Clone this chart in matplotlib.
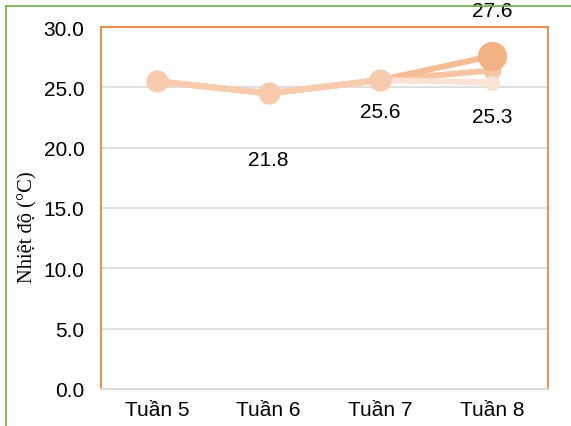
import matplotlib.pyplot as plt
from matplotlib.lines import Line2D

weeks = ['Tuần 5', 'Tuần 6', 'Tuần 7', 'Tuần 8']
series_dark = [25.5, 24.5, 25.6, 27.6]
series_mid = [25.5, 24.5, 25.6, 26.4]
series_light = [25.5, 24.5, 25.6, 25.4]

# data labels as shown (week index, text, offset in px)
label_weeks = [1, 2, 3, 3]
label_texts = ['21.8', '25.6', '25.3', '27.6']
label_series = [series_mid, series_mid, series_light, series_dark]
label_offsets = [-66, -31, -34, 45]

plt.rcParams['font.family'] = ['Liberation Sans', 'DejaVu Sans']

fig = plt.figure(figsize=(5.71, 4.27), dpi=100)
ax = fig.add_axes([101 / 571, 1 - 390 / 427, 447 / 571, 362 / 427])

x = list(range(len(weeks)))
c_dark = '#F4B183'
c_mid = '#F8CBAD'
c_light = '#FBE2D2'

ax.plot(x, series_light, color=c_light, lw=4.3, marker='o', ms=10,
        markevery=[3], zorder=3, solid_capstyle='round')
ax.plot(x, series_mid, color='#F7C5A3', lw=4.3, marker='o', ms=12,
        markevery=[3], zorder=2, solid_capstyle='round')
ax.plot(x, series_dark, color='#F5BC94', lw=4.3, zorder=2,
        solid_capstyle='round')
ax.plot(x[:3], series_mid[:3], color=c_mid, lw=4.3, marker='o', ms=15,
        zorder=4)
ax.plot(x[3:], series_dark[3:], color=c_dark, lw=0, marker='o', ms=20,
        zorder=5)

for w, t, s, off in zip(label_weeks, label_texts, label_series, label_offsets):
    ax.annotate(t, (w, s[w]), xytext=(0, off * 0.72), textcoords='offset points',
                ha='center', va='center', fontsize=15, color='#000000',
                annotation_clip=False, zorder=6)

ax.set_xlim(-0.5, 3.5)
ax.set_ylim(0, 30)
ax.set_yticks([0, 5, 10, 15, 20, 25, 30])
ax.set_yticklabels([f'{v:.1f}' for v in [0, 5, 10, 15, 20, 25, 30]])
ax.set_xticks(x)
ax.set_xticklabels(weeks)
ax.tick_params(axis='both', length=0, labelsize=15, colors='#000000')
ax.tick_params(axis='y', pad=12)
ax.tick_params(axis='x', pad=8)
ax.yaxis.grid(True, color='#D9D9D9', lw=1.2)
ax.set_axisbelow(True)

for side in ['left', 'top', 'right']:
    ax.spines[side].set_color('#ED7D31')
    ax.spines[side].set_linewidth(1.2)
ax.spines['bottom'].set_color('#D9D9D9')
ax.spines['bottom'].set_linewidth(1.2)

ax.set_ylabel('Nhiệt độ (°C)', family=['Liberation Serif', 'DejaVu Serif'],
              fontsize=14.8)
ax.yaxis.set_label_coords(-64 / 447, 0.45)

# green outer frame (cropped)
fig.add_artist(Line2D([6 / 571, 6 / 571], [0, 1 - 7 / 427],
                      transform=fig.transFigure, color='#70AD47', lw=1.2))
fig.add_artist(Line2D([6 / 571, 1], [1 - 7 / 427, 1 - 7 / 427],
                      transform=fig.transFigure, color='#70AD47', lw=1.2))

fig.savefig('out.png', dpi=100)
